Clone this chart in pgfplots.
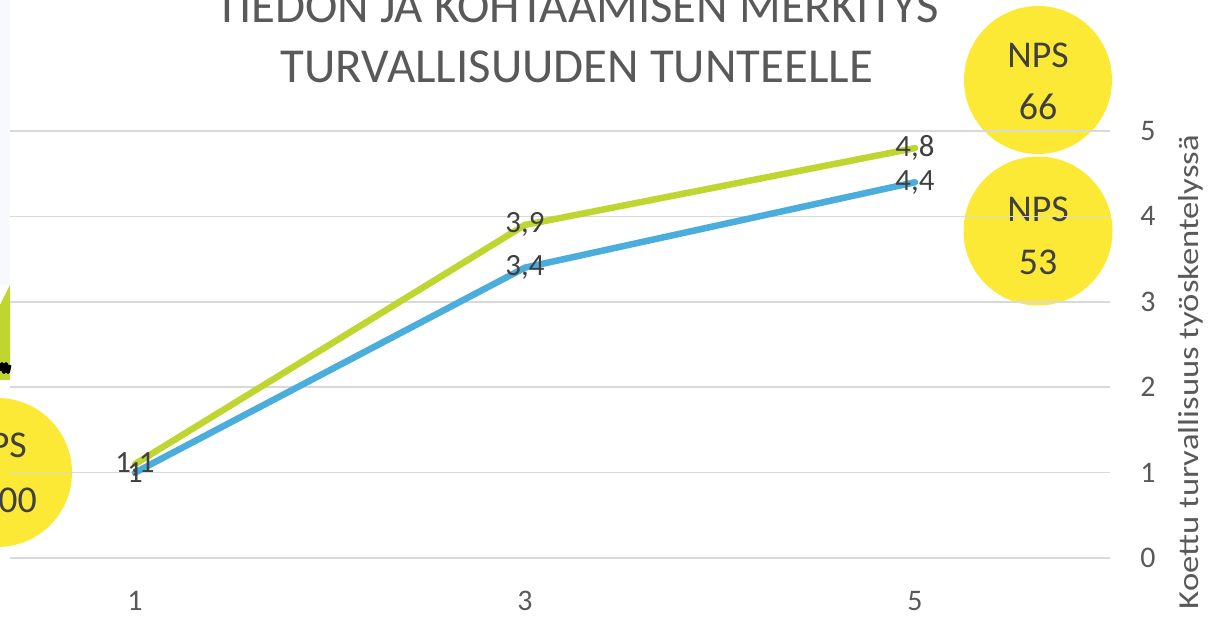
\documentclass[border=0pt]{standalone}
\usepackage{pgfplots}
\pgfplotsset{compat=1.18}
\usepackage{fontspec}
\setmainfont{Carlito}
\definecolor{lgreen}{HTML}{BFD630}
\definecolor{lblue}{HTML}{4AADDC}
\definecolor{nyellow}{HTML}{FCE935}
\definecolor{tgrey}{HTML}{595959}
\definecolor{dgrey}{HTML}{404040}
\definecolor{gridc}{HTML}{D9D9D9}
\definecolor{strip}{HTML}{F7F9FC}
\begin{document}
\begin{tikzpicture}[x=1bp,y=1bp]
\useasboundingbox (0,0) rectangle (1210,622);
\clip (0,0) rectangle (1210,622);
% NPS circles (behind the chart)
\fill[nyellow] (1038,542) circle[radius=74];
\fill[nyellow] (1038,391) circle[radius=74.5];
\fill[nyellow] (-2.5,149.5) circle[radius=74.5];
\begin{scope}[every node/.style={text=dgrey, font=\fontsize{38}{46}\selectfont, inner sep=0pt}]
\node[anchor=base] at (1038,554) {NPS};
\node[anchor=base] at (1038,502) {66};
\node[anchor=base] at (1038,400) {NPS};
\node[anchor=base] at (1038,347) {53};
\node[anchor=base east] at (27,164) {NPS};
\node[anchor=base east] at (37,109) {-100};
\end{scope}
% left cut-off picture
\fill[strip] (0,337) rectangle (10,622);
\fill[lgreen] (0,317) -- (10,337) -- (10,242) -- (0,242) -- cycle;
\draw[black, line width=4bp, line join=round] (0.5,251) -- (2,258) -- (4,250) -- (6,258) -- (8,250) -- (9.5,257);
% title
\node[anchor=base, text=tgrey, font=\fontsize{49}{60}\selectfont, inner sep=0pt] at (577,599) {TIEDON JA KOHTAAMISEN MERKITYS};
\node[anchor=base, text=tgrey, font=\fontsize{49}{60}\selectfont, inner sep=0pt] at (577,539) {TURVALLISUUDEN TUNTEELLE};
% axis label
\node[text=tgrey, font=\fontsize{29}{34}\selectfont, inner sep=0pt, rotate=90, xscale=1.2] at (1191,250) {Koettu turvallisuus työskentelyssä};
\begin{axis}[
  at={(10bp,64bp)}, anchor=south west,
  scale only axis, width=1100bp, height=427bp,
  xmin=0.359, xmax=6, ymin=0, ymax=5,
  axis line style={draw=none},
  major tick length=0pt,
  xtick={1,3,5}, ytick={0,1,2,3,4,5},
  ymajorgrids, grid style={gridc, line width=1.5bp},
  yticklabel pos=right,
  yticklabel style={anchor=center, xshift=38bp, text=tgrey, font=\fontsize{30}{36}\selectfont},
  xticklabel style={anchor=center, yshift=-43bp, text=tgrey, font=\fontsize{30}{36}\selectfont},
  /pgf/number format/assume math mode=true,
  /pgf/number format/use comma,
  nodes near coords,
  every node near coord/.append style={anchor=center, text=dgrey, font=\fontsize{31}{36}\selectfont, inner sep=0pt},
  clip=false,
]
\addplot[lgreen, line width=6.5bp, line join=round, line cap=round] coordinates {(1,1.1) (3,3.9) (5,4.8)};
\addplot[lblue, line width=6.5bp, line join=round, line cap=round] coordinates {(1,1) (3,3.4) (5,4.4)};
\end{axis}
\end{tikzpicture}
\end{document}
